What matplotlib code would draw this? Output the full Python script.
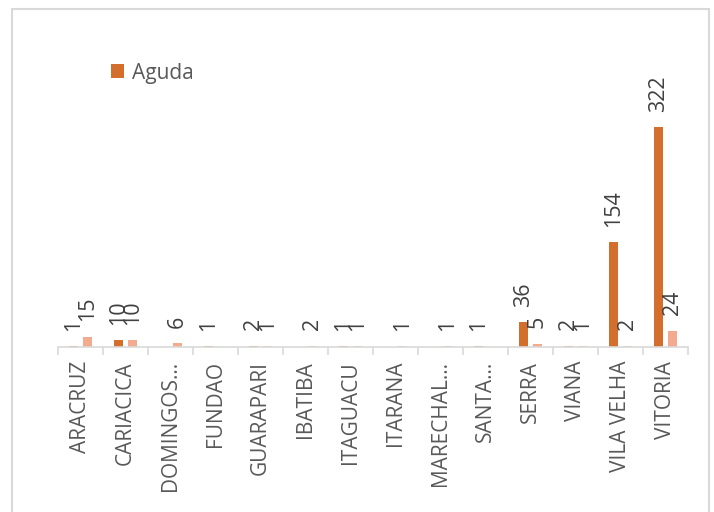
import numpy as np
import matplotlib.pyplot as plt
from matplotlib.patches import Rectangle

plt.rcParams['font.family'] = ['Open Sans', 'DejaVu Sans']

# data
municipios = ['ARACRUZ', 'CARIACICA', 'DOMINGOS…', 'FUNDAO', 'GUARAPARI', 'IBATIBA',
              'ITAGUACU', 'ITARANA', 'MARECHAL…', 'SANTA…', 'SERRA', 'VIANA',
              'VILA VELHA', 'VITORIA']
nan = np.nan
aguda = [1, 10, nan, 1, 2, nan, 1, nan, nan, 1, 36, 2, 154, 322]
outra = [15, 10, 6, nan, 1, 2, 1, 1, 1, nan, 5, 1, 2, 24]

cor_aguda = '#D46E2C'
cor_outra = '#F3AA8E'
cinza = '#D9D9D9'

fig = plt.figure(figsize=(7.14, 5.12), dpi=100)
ax = fig.add_axes([58 / 714, 165 / 512, 630 / 714, 327 / 512])

x = np.arange(len(municipios))
w = 0.22
off = 0.155
b1 = ax.bar(x - off, np.nan_to_num(aguda), w, color=cor_aguda, label='Aguda')
b2 = ax.bar(x + off, np.nan_to_num(outra), w, color=cor_outra, label='_nolegend_')

# value labels, rotated like the excel chart
for xs, vals in ((x - off, aguda), (x + off, outra)):
    for xi, v in zip(xs, vals):
        if np.isnan(v):
            continue
        ax.annotate(f'{int(v)}', (xi, v), xytext=(0, 11), textcoords='offset points',
                    rotation=90, ha='center', va='bottom', fontsize=15.5, color='#404040')

ax.set_xlim(-0.5, len(municipios) - 0.5)
ax.set_ylim(0, 478.6)
ax.set_xticks(x)
ax.set_xticklabels(municipios, rotation=90, fontsize=15, color='#595959')
ax.set_xticks(np.arange(-0.5, len(municipios)), minor=True)
ax.tick_params(axis='x', which='major', length=0, pad=10)
ax.tick_params(axis='x', which='minor', length=6, color=cinza, width=1.2)
ax.set_yticks([])
for s in ['top', 'right', 'left']:
    ax.spines[s].set_visible(False)
ax.spines['bottom'].set_color(cinza)
ax.spines['bottom'].set_linewidth(1.2)

ax.legend(loc='upper left', bbox_to_anchor=(92 / 714, 1 - 44 / 512),
          bbox_transform=fig.transFigure, frameon=False, fontsize=15,
          labelcolor='#595959', handlelength=0.65, handleheight=0.65,
          handletextpad=0.35)

# outer chart border
fig.patches.append(Rectangle((12 / 714, -0.1), 697 / 714, 1.1 - 9 / 512,
                             transform=fig.transFigure, fill=False,
                             edgecolor=cinza, linewidth=1.5))

fig.savefig('out.png', dpi=100)
